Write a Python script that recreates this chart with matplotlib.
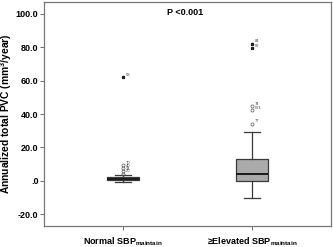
import matplotlib
matplotlib.use("Agg")
import matplotlib.pyplot as plt

plt.rcParams['font.family'] = ['Liberation Sans', 'DejaVu Sans']
plt.rcParams['mathtext.fontset'] = 'custom'
plt.rcParams['mathtext.rm'] = 'Liberation Sans'
plt.rcParams['mathtext.bf'] = 'Liberation Sans:bold'

categories = ["Normal SBP$_{\\mathbf{maintain}}$", "≥Elevated SBP$_{\\mathbf{maintain}}$"]
positions = [1, 2]
medians = [1.2, 4.3]
q1s = [0.4, 0.0]
q3s = [2.6, 12.8]
whislo = [-0.6, -10.3]
whishi = [3.6, 29.1]
# mild outliers (circles) and their case labels
fliers = [[4.3, 5.9, 7.6, 9.3], [34.3, 42.3, 44.8]]
flier_labels = [["20", "34", "40", "70"], ["77", "071", "74"]]
# extreme outliers (stars)
extremes = [[62.2], [82.0, 79.5]]
extreme_labels = [["58"], ["84", "87"]]

yticks = [-20, 0, 20, 40, 60, 80, 100]
ytick_labels = ["-20.0", ".0", "20.0", "40.0", "60.0", "80.0", "100.0"]

fig = plt.figure(figsize=(3.33, 2.47), dpi=100)
ax = fig.add_axes([44/333, 1-226/247, 287/333, 224/247])

stats = []
for i in range(2):
    stats.append(dict(med=medians[i], q1=q1s[i], q3=q3s[i],
                      whislo=whislo[i], whishi=whishi[i], fliers=fliers[i]))

ax.bxp(stats, positions=positions, widths=0.25, patch_artist=True,
       boxprops=dict(facecolor="#aaaaaa", edgecolor="#3a3a3a", linewidth=0.9),
       medianprops=dict(color="#1a1a1a", linewidth=1.4),
       whiskerprops=dict(color="#3a3a3a", linewidth=0.9),
       capprops=dict(color="#3a3a3a", linewidth=0.9),
       capwidths=0.12,
       flierprops=dict(marker="o", markersize=2.2, markerfacecolor="none",
                       markeredgecolor="#555555", markeredgewidth=0.5))

for i, pos in enumerate(positions):
    ax.plot([pos]*len(extremes[i]), extremes[i], linestyle="none", marker="*",
            markersize=2.2, color="#222222")
    for v, lab in zip(extremes[i], extreme_labels[i]):
        ax.annotate(lab, (pos, v), xytext=(2, 1), textcoords="offset points",
                    fontsize=3, color="#444444")
    for v, lab in zip(fliers[i], flier_labels[i]):
        ax.annotate(lab, (pos, v), xytext=(2, 1), textcoords="offset points",
                    fontsize=3, color="#444444")

ax.set_xlim(0.39, 2.61)
ax.set_ylim(-27, 107)
ax.set_yticks(yticks)
ax.set_yticklabels(ytick_labels, fontsize=6.5, fontweight="bold")
ax.set_xticks(positions)
ax.set_xticklabels(categories, fontsize=6.5, fontweight="bold")
ax.tick_params(axis="both", length=3, width=0.6, color="#555555")
ax.tick_params(axis="x", pad=4)
ax.tick_params(axis="y", pad=1)
for s in ax.spines.values():
    s.set_color("#777777")
    s.set_linewidth(0.9)

ax.set_ylabel("Annualized total PVC (mm$^{\\mathbf{3}}$/year)", fontsize=7.4, fontweight="bold", labelpad=1)
ax.text(0.49, 0.955, "P <0.001", transform=ax.transAxes, ha="center", va="center",
        fontsize=6.5, fontweight="bold")

fig.savefig("out.png", dpi=100)
